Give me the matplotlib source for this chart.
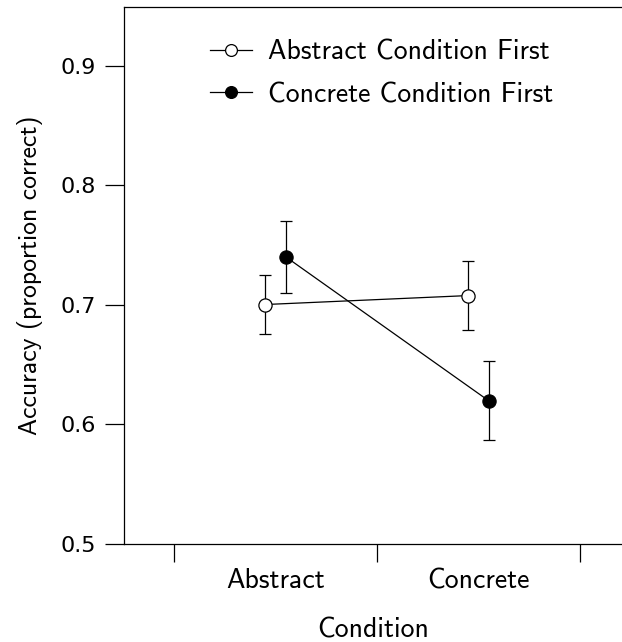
import numpy as np
import matplotlib.pyplot as plt
from matplotlib.lines import Line2D

plt.rcParams['font.family'] = ['cmss10', 'DejaVu Sans']
plt.rcParams['axes.formatter.use_mathtext'] = True

conditions = ['Abstract', 'Concrete']
groups = ['Abstract Condition First', 'Concrete Condition First']
means = {
    'Abstract Condition First': [0.700, 0.7075],
    'Concrete Condition First': [0.740, 0.6195],
}
errs = {
    'Abstract Condition First': [0.025, 0.029],
    'Concrete Condition First': [0.030, 0.033],
}
faces = {'Abstract Condition First': 'white', 'Concrete Condition First': 'black'}
offsets = {'Abstract Condition First': -0.05, 'Concrete Condition First': 0.05}
yticks = [0.5, 0.6, 0.7, 0.8, 0.9]

fig = plt.figure(figsize=(6.22, 6.42), dpi=100)
ax = fig.add_axes([124/622, 98.5/642, 1 - 124/622, 536.5/642])

x = np.arange(1, len(conditions) + 1)
for g in groups:
    ax.errorbar(x + offsets[g], means[g], yerr=errs[g], color='black', lw=0.9,
                elinewidth=0.9, capsize=4, capthick=0.9, marker='o', ms=9.5,
                mfc=faces[g], mec='black', mew=0.9, zorder=3)

ax.set_xlim(0.254, 2.707)
ax.set_ylim(0.5, 0.949)
ax.set_yticks(yticks)
ax.set_yticklabels([f'{v:.1f}' for v in yticks], family='DejaVu Sans', fontsize=16)
ax.set_xticks([0.5, 1.5, 2.5])
ax.set_xticklabels([])
ax.set_xticks(x, minor=True)
ax.set_xticklabels(conditions, minor=True, fontsize=20)
ax.tick_params(axis='x', which='minor', length=0, pad=18)
ax.tick_params(axis='x', which='major', length=13, width=0.9, direction='out')
ax.tick_params(axis='y', length=14, width=0.9, direction='out', pad=6)

ax.spines['right'].set_visible(False)
for s in ['left', 'top', 'bottom']:
    ax.spines[s].set_linewidth(0.9)

ax.set_xlabel('Condition', fontsize=20, labelpad=17)
ax.set_ylabel('Accuracy (proportion correct)', fontsize=18.5, labelpad=13)

handles = [Line2D([], [], color='black', lw=0.9, marker='o', ms=8.5,
                  mfc=faces[g], mec='black', mew=0.9) for g in groups]
ax.legend(handles, groups, loc='upper left', bbox_to_anchor=(196/622, 1 - 26/642),
          bbox_transform=fig.transFigure, frameon=False, fontsize=20,
          handlelength=1.5, handletextpad=0.6, labelspacing=0.62, borderpad=0)

fig.savefig('out.png', dpi=100)
